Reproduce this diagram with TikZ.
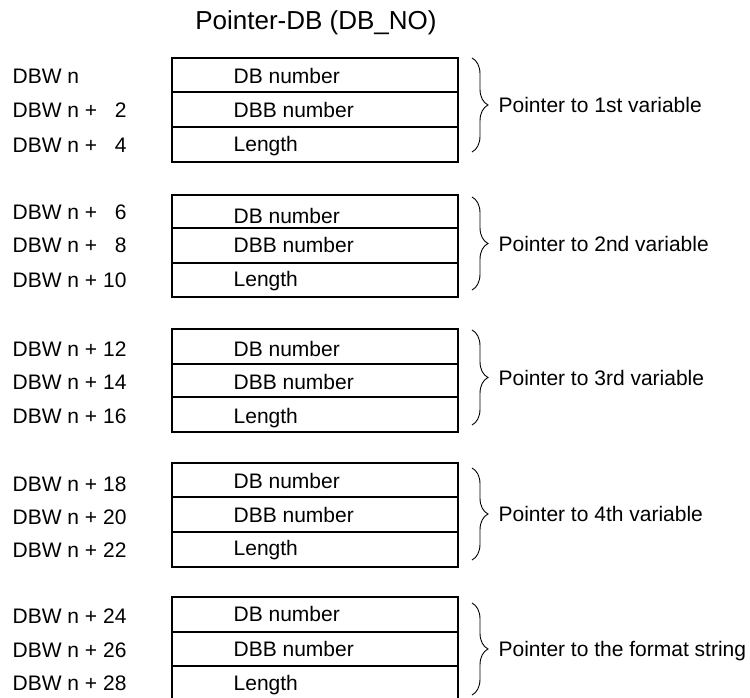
\documentclass[tikz,border=0pt]{standalone}
\usepackage{fontspec}
\setmainfont{Liberation Sans}
\usetikzlibrary{decorations.pathreplacing}
\begin{document}
\begin{tikzpicture}[x=1pt, y=-1pt, line width=1.3pt,
    txt/.style={anchor=west, inner sep=0pt, text height=15pt, text depth=0pt,
        font=\fontsize{21}{24}\selectfont},
    curly/.style={decorate, decoration={brace, amplitude=16pt}, line width=0.9pt}]
    \useasboundingbox (0,0) rectangle (750,698);

    \node[font=\fontsize{26}{30}\selectfont] (title) at (316,23) {Pointer-DB (DB\_NO)};

    % the five pointers, three words each
    \foreach \g/\ya/\yb/\yc/\yd/\ta/\tb/\tc in {1/58/92/127/162/76/110/144,
            2/195/228/263/297/216/245/279, 3/329/364/397/432/349/382/416,
            4/463/497/532/567/481/515/548, 5/597/632/666/701/614/649/683} {
        \draw (172,\ya) rectangle (458,\yd);
        \draw (172,\yb) -- (458,\yb) (172,\yc) -- (458,\yc);
        \node[txt] (db\g) at (233,\ta) {DB number};
        \node[txt] (dbb\g) at (233,\tb) {DBB number};
        \node[txt] (len\g) at (233,\tc) {Length};
    }

    % word addresses
    \foreach \n/\lbl/\y in {0/{DBW n}/76, 2/{DBW n + \hphantom{0}2}/110,
            4/{DBW n + \hphantom{0}4}/145, 6/{DBW n + \hphantom{0}6}/212,
            8/{DBW n + \hphantom{0}8}/245, 10/{DBW n + 10}/280,
            12/{DBW n + 12}/349, 14/{DBW n + 14}/382, 16/{DBW n + 16}/416,
            18/{DBW n + 18}/484, 20/{DBW n + 20}/517, 22/{DBW n + 22}/550,
            24/{DBW n + 24}/616, 26/{DBW n + 26}/650, 28/{DBW n + 28}/683}
        \node[txt] (dbw\n) at (12,\y) {\lbl};

    % braces
    \foreach \g/\yt/\yb/\what in {1/58/152/1st variable, 2/197/290/2nd variable,
            3/330/425/3rd variable, 4/468/560/4th variable, 5/603/695/the format string} {
        \draw[curly] (472,\yt) -- (472,\yb);
        \coordinate (tip\g) at (490,{(\yt+\yb)/2});
        \node[txt] (ptr\g) at ([xshift=8pt]tip\g) {Pointer to \what};
    }
\end{tikzpicture}
\end{document}
